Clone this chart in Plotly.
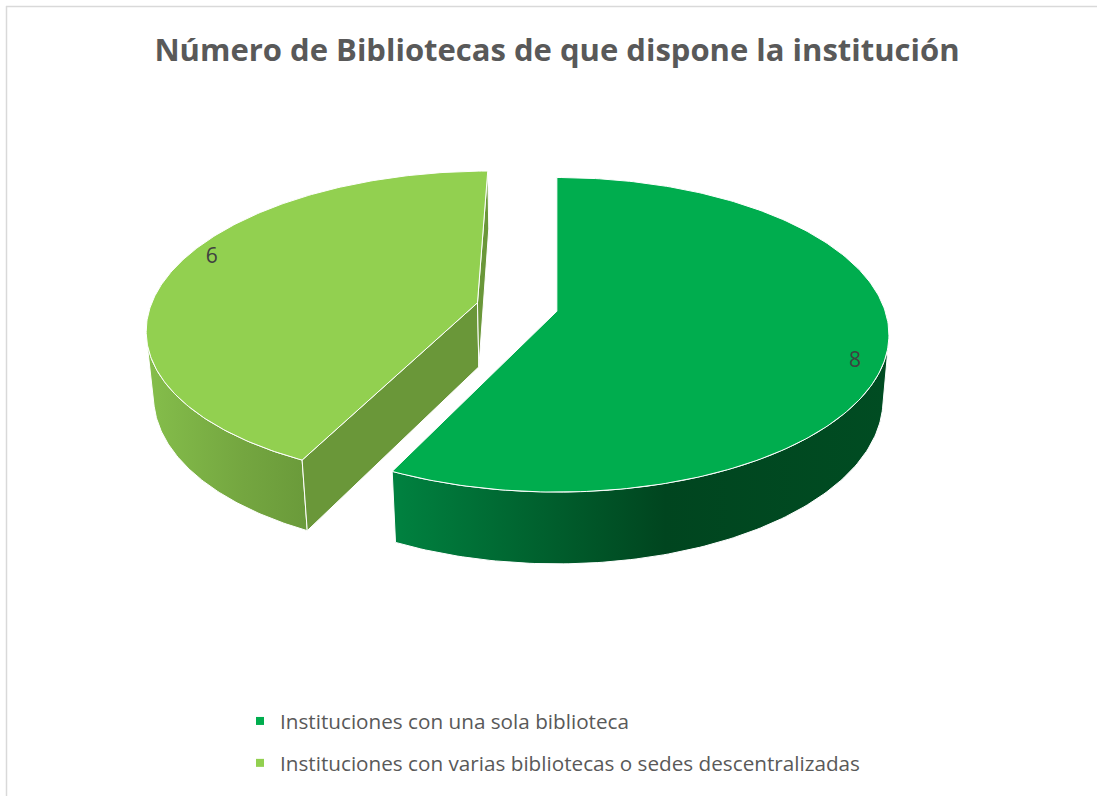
import numpy as np
import plotly.graph_objects as go

W, H = 1097, 796

# ---- data ----
categories = ["Instituciones con una sola biblioteca",
              "Instituciones con varias bibliotecas o sedes descentralizadas"]
values = [8, 6]
title_text = "Número de Bibliotecas de que dispone la institución"

# ---- styles ----
top_colors = ["#00AD4E", "#92D050"]
side_scales = [
    [[0, "#008240"], [0.55, "#00451F"], [1, "#004C22"]],
    [[0, "#85BE4B"], [0.6, "#74A640"], [1, "#6A9A3A"]],
]
wall_colors = ["#005F2B", "#6A9739"]
text_grey = "#595959"

# ---- 3D pie projection parameters ----
CX, CY = 517, 307
S = 327
ALPHA = np.radians(27.8)
DIST = 5.94
THICK = 0.226
EXPLODE = 0.125
CAMX = 0.122
LABEL_R = 0.92
LABEL_ROT = np.radians(7)

cam = np.array([CAMX, DIST * np.sin(ALPHA), DIST * np.cos(ALPHA)])


def proj(X, Y, Z):
    X = np.asarray(X, dtype=float)
    Y = np.asarray(Y, dtype=float) * np.ones_like(X)
    Z = np.asarray(Z, dtype=float)
    u = Y * np.cos(ALPHA) - Z * np.sin(ALPHA)
    w = Y * np.sin(ALPHA) + Z * np.cos(ALPHA)
    s = DIST / (DIST - w)
    return CX + S * (CAMX + (X - CAMX) * s), CY - S * u * s


fig = go.Figure()

total = float(sum(values))
slices = []
acc = 0.0
for i, v in enumerate(values):
    t1 = 2 * np.pi * acc / total
    t2 = 2 * np.pi * (acc + v) / total
    acc += v
    mid = (t1 + t2) / 2
    ox, oz = EXPLODE * np.sin(mid), -EXPLODE * np.cos(mid)
    slices.append(dict(i=i, t1=t1, t2=t2, mid=mid, ox=ox, oz=oz))

# draw farther slices first
slices.sort(key=lambda d: d["oz"])

label_pts = []
for sl in slices:
    i, t1, t2, ox, oz = sl["i"], sl["t1"], sl["t2"], sl["ox"], sl["oz"]
    th = np.linspace(t1, t2, 240)
    RX = ox + np.sin(th)
    RZ = oz - np.cos(th)

    # outer side (visible part)
    nx, nz = np.sin(th), -np.cos(th)
    vis = (cam[0] - RX) * nx + (cam[2] - RZ) * nz > 0
    idx = np.where(vis)[0]
    if len(idx) > 1:
        tx, ty = proj(RX[idx], 0, RZ[idx])
        bx, by = proj(RX[idx], -THICK, RZ[idx])
        xs = np.concatenate([tx, bx[::-1], tx[:1]])
        ys = np.concatenate([ty, by[::-1], ty[:1]])
        fig.add_trace(go.Scatter(
            x=xs, y=ys, mode="lines", fill="toself",
            fillgradient=dict(type="horizontal", colorscale=side_scales[i]),
            line=dict(color="white", width=1), hoverinfo="skip", showlegend=False))

    # radial walls
    for t, sign in ((t1, -1), (t2, 1)):
        n = np.array([sign * np.cos(t), 0, sign * np.sin(t)])
        P = np.array([ox, 0, oz])
        if np.dot(cam - P, n) > 1e-6:
            ex, ez = ox + np.sin(t), oz - np.cos(t)
            wx = [ox, ex, ex, ox, ox]
            wy = [0, 0, -THICK, -THICK, 0]
            wz = [oz, ez, ez, oz, oz]
            px, py = proj(wx, wy, wz)
            fig.add_trace(go.Scatter(
                x=px, y=py, mode="lines", fill="toself", fillcolor=wall_colors[i],
                line=dict(color="white", width=1), hoverinfo="skip", showlegend=False))

    # top face
    fx = np.concatenate([[ox], RX, [ox]])
    fz = np.concatenate([[oz], RZ, [oz]])
    px, py = proj(fx, 0, fz)
    fig.add_trace(go.Scatter(
        x=px, y=py, mode="lines", fill="toself", fillcolor=top_colors[i],
        line=dict(color="white", width=1), hoverinfo="skip", showlegend=False))

    la = sl["mid"] + LABEL_ROT
    lx, ly = proj(ox + LABEL_R * np.sin(la), 0, oz - LABEL_R * np.cos(la))
    label_pts.append((float(lx), float(ly), str(values[i])))

# data labels
fig.add_trace(go.Scatter(
    x=[p[0] for p in label_pts], y=[p[1] for p in label_pts],
    text=[p[2] for p in label_pts], mode="text",
    textfont=dict(family="Open Sans", size=21, color="#404040"),
    hoverinfo="skip", showlegend=False))

# legend entries
for i, name in enumerate(categories):
    fig.add_trace(go.Scatter(
        x=[None], y=[None], mode="markers", name=name,
        legendgroup=f"g{i}",
        marker=dict(symbol="square", size=8, color=top_colors[i])))

# chart border (left and top edges visible)
fig.add_shape(type="line", x0=6.5, x1=6.5, y0=6, y1=H, xref="x", yref="y",
              line=dict(color="#D9D9D9", width=1.5))
fig.add_shape(type="line", x0=6, x1=W, y0=6.5, y1=6.5, xref="x", yref="y",
              line=dict(color="#D9D9D9", width=1.5))

fig.update_layout(
    width=W, height=H,
    margin=dict(l=0, r=0, t=0, b=0),
    paper_bgcolor="white", plot_bgcolor="white",
    title=dict(text=f"<b>{title_text}</b>", x=557 / W, xanchor="center",
               y=1 - 50 / H, yanchor="middle",
               font=dict(family="Open Sans", size=31, color=text_grey)),
    xaxis=dict(range=[0, W], visible=False, fixedrange=True),
    yaxis=dict(range=[H, 0], visible=False, fixedrange=True),
    legend=dict(x=240 / W, xanchor="left", y=1 - 701 / H, yanchor="top",
                traceorder="grouped", tracegroupgap=12,
                font=dict(family="Open Sans", size=20.7, color=text_grey),
                itemwidth=30, bgcolor="rgba(0,0,0,0)"),
    showlegend=True,
)

fig.write_html("out.html")
